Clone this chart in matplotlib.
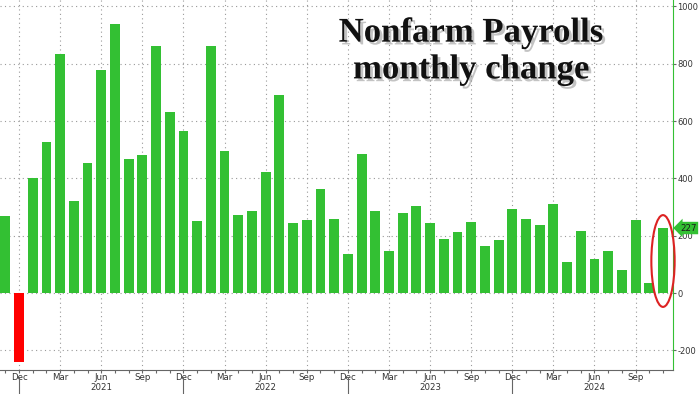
import matplotlib
matplotlib.use("Agg")
import matplotlib.pyplot as plt
import matplotlib.patheffects as pe
from matplotlib.patches import Ellipse
import numpy as np
import pandas as pd

plt.rcParams["axes.unicode_minus"] = False

# monthly change in nonfarm payrolls, thousands, Nov 2020 .. Nov 2024
months = pd.date_range("2020-11-01", "2024-11-01", freq="MS")
payrolls = [
    268, -240,
    400, 527, 832, 320, 452, 778, 940, 467, 482, 860, 631, 566,
    253, 862, 495, 273, 288, 422, 691, 245, 255, 364, 260, 136,
    484, 288, 148, 280, 305, 243, 187, 213, 247, 166, 185, 292,
    258, 238, 312, 109, 217, 120, 146, 81, 255, 37, 227,
]
last_value = 227
title = "Nonfarm Payrolls\nmonthly change"

GREEN = "#33c033"
RED = "#ff0000"
GRID = "#9a9a9a"
TXT = "#333333"

x = np.arange(len(months))
colors = [GREEN if v >= 0 else RED for v in payrolls]

fig = plt.figure(figsize=(7, 3.94), dpi=100)
ax = fig.add_axes([0, 24 / 394, 673 / 700, 370 / 394])

ax.bar(x, payrolls, width=0.72, color=colors, zorder=3)

ax.set_xlim(-0.39, len(months) - 0.27)
ax.set_ylim(-268, 1022)

# quarterly major ticks / monthly minor ticks
quarter = [i for i, m in enumerate(months) if m.month in (3, 6, 9, 12)]
ax.set_xticks(quarter)
ax.set_xticklabels([months[i].strftime("%b") for i in quarter])
ax.set_xticks(x, minor=True)
ax.tick_params(axis="x", which="both", length=2.5, width=0.8, color="#666666",
               labelsize=6.2, labelcolor=TXT, pad=0)

# year labels under June, separators at December
for i, m in enumerate(months):
    if m.month == 6:
        ax.text(i, -0.036, str(m.year), transform=ax.get_xaxis_transform(),
                ha="center", va="top", fontsize=6.2, color=TXT)
    if m.month == 12:
        ax.plot([i, i], [-0.02, -0.065], transform=ax.get_xaxis_transform(),
                color="#666666", lw=0.8, clip_on=False)

ax.yaxis.tick_right()
ax.set_yticks(np.arange(-200, 1001, 200))
ax.tick_params(axis="y", length=2.5, width=0.8, color="#666666",
               labelsize=6, labelcolor=TXT, pad=0.5)

ax.grid(True, which="major", linestyle=(0, (1, 3)), color=GRID, lw=0.8, zorder=0)

for s in ["top", "left"]:
    ax.spines[s].set_visible(False)
ax.spines["right"].set_color(GREEN)
ax.spines["bottom"].set_color("#666666")

# last value tag
ax.annotate(str(last_value), xy=(1.0, last_value), xycoords=("axes fraction", "data"),
            xytext=(5, 0), textcoords="offset points", ha="left", va="center",
            fontsize=6.2, color="#1a1a1a",
            bbox=dict(boxstyle="larrow,pad=0.2", fc=GREEN, ec="none"))

# highlight ring around the latest bar
ax.add_patch(Ellipse((x[-1], 112), 1.7, 320, fill=False, ec="#dd2222", lw=1.5,
                     zorder=4, clip_on=False))

ax.text(0.7, 0.955, title, transform=ax.transAxes, ha="center", va="top",
        fontsize=25, fontweight="bold", family="Liberation Serif", color="#111111",
        linespacing=1.15,
        path_effects=[pe.withSimplePatchShadow(offset=(2, -2), shadow_rgbFace="#888888", alpha=0.5)])

fig.savefig("out.png", dpi=100)
